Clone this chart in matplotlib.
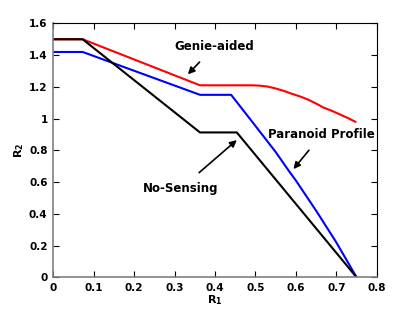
import numpy as np
import matplotlib
matplotlib.use("Agg")
import matplotlib.pyplot as plt

# curves
genie_x = [0, 0.073, 0.363, 0.49, 0.51, 0.53, 0.55, 0.57, 0.586, 0.61, 0.63, 0.65, 0.668, 0.69, 0.71, 0.73, 0.747]
genie_y = [1.5, 1.5, 1.21, 1.21, 1.208, 1.202, 1.19, 1.175, 1.16, 1.14, 1.12, 1.095, 1.07, 1.048, 1.025, 1.002, 0.98]

paranoid_x = [0, 0.073, 0.363, 0.44, 0.5, 0.55, 0.58, 0.6, 0.65, 0.7, 0.75]
paranoid_y = [1.42, 1.42, 1.15, 1.15, 0.954, 0.79, 0.68, 0.61, 0.42, 0.22, 0.0]

nosense_x = [0, 0.073, 0.363, 0.454, 0.75]
nosense_y = [1.5, 1.5, 0.913, 0.913, 0.0]

xticks = [0, 0.1, 0.2, 0.3, 0.4, 0.5, 0.6, 0.7, 0.8]
xticklabels = ["0", "0.1", "0.2", "0.3", "0.4", "0.5", "0.6", "0.7", "0.8"]
yticks = [0, 0.2, 0.4, 0.6, 0.8, 1.0, 1.2, 1.4, 1.6]
yticklabels = ["0", "0.2", "0.4", "0.6", "0.8", "1", "1.2", "1.4", "1.6"]

fig = plt.figure(figsize=(4.15, 3.12), dpi=100)
ax = fig.add_axes([0.128, 0.111, 0.78, 0.814])

ax.plot(genie_x, genie_y, color="#ff0000", lw=1.5)
ax.plot(paranoid_x, paranoid_y, color="#0000ff", lw=1.5)
ax.plot(nosense_x, nosense_y, color="black", lw=1.5)

ax.set_xlim(0, 0.8)
ax.set_ylim(0, 1.6)
ax.set_xticks(xticks)
ax.set_xticklabels(xticklabels)
ax.set_yticks(yticks)
ax.set_yticklabels(yticklabels)
ax.tick_params(direction="in", top=True, right=True, length=4, width=0.8,
               labelsize=7.5, pad=4)
for lab in ax.get_xticklabels() + ax.get_yticklabels():
    lab.set_fontweight("bold")

for side in ["left", "bottom"]:
    ax.spines[side].set_color("#808080")
    ax.spines[side].set_linewidth(1.2)
for side in ["top", "right"]:
    ax.spines[side].set_linewidth(0.8)

ax.set_xlabel("R$_\\mathbf{1}$", fontsize=8, fontweight="bold", labelpad=0)
ax.set_ylabel("R$_\\mathbf{2}$", fontsize=8, fontweight="bold", labelpad=2)

arrow = dict(arrowstyle="-|>", color="black", lw=1.2, mutation_scale=10)
ax.annotate("Genie-aided", xy=(0.333, 1.279), xytext=(0.398, 1.453),
            ha="center", va="center", fontsize=8.5, fontweight="bold",
            arrowprops=dict(arrow, shrinkA=6, shrinkB=0))
ax.annotate("Paranoid Profile", xy=(0.594, 0.682), xytext=(0.664, 0.90),
            ha="center", va="center", fontsize=8.5, fontweight="bold",
            arrowprops=dict(arrow, shrinkA=6, shrinkB=0))
ax.annotate("No-Sensing", xy=(0.454, 0.865), xytext=(0.316, 0.561),
            ha="center", va="center", fontsize=8.5, fontweight="bold",
            arrowprops=dict(arrow, shrinkA=7, shrinkB=0))

fig.savefig("out.png", dpi=100)
